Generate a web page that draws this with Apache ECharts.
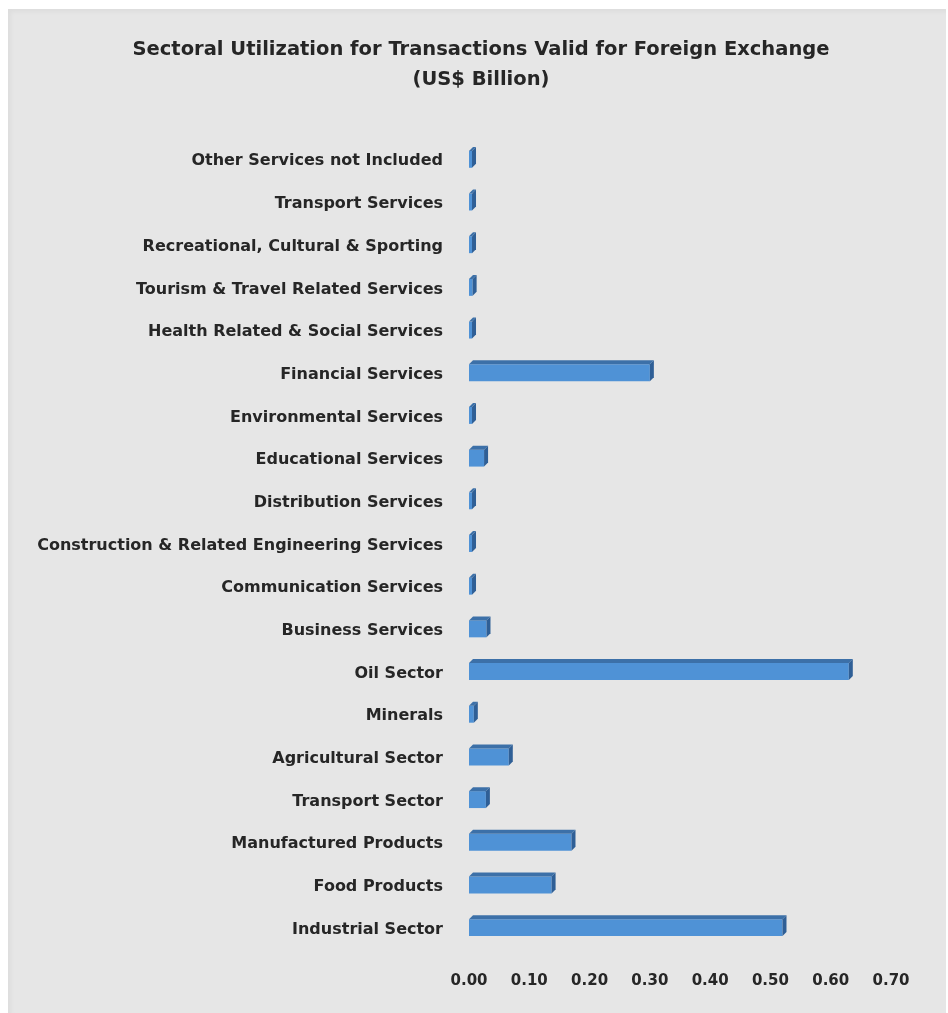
<!DOCTYPE html>
<html>
<head>
<meta charset="utf-8">
<script src="https://cdn.jsdelivr.net/npm/echarts@6/dist/echarts.min.js"></script>
<style>
  html, body { margin: 0; padding: 0; background: #ffffff; }
  #frame {
    position: absolute; left: 8px; top: 9px; width: 938px; height: 1004px;
    background: #e6e6e6;
    box-shadow: inset 3px 3px 4px rgba(0,0,0,0.04);
  }
  #chart { position: absolute; left: 0; top: 0; width: 948px; height: 1013px; }
</style>
</head>
<body>
<div id="frame"></div>
<div id="chart"></div>
<script>
// Sectors, listed from the bottom of the chart upward
const sectors = [
  'Industrial Sector',
  'Food Products',
  'Manufactured Products',
  'Transport Sector',
  'Agricultural Sector',
  'Minerals',
  'Oil Sector',
  'Business Services',
  'Communication Services',
  'Construction & Related Engineering Services',
  'Distribution Services',
  'Educational Services',
  'Environmental Services',
  'Financial Services',
  'Health Related & Social Services',
  'Tourism & Travel Related Services',
  'Recreational, Cultural & Sporting',
  'Transport Services',
  'Other Services not Included'
];

// Utilization, US$ billion
const utilization = [
  0.52, 0.137, 0.17, 0.028, 0.066, 0.008, 0.63, 0.029, 0.005, 0.005,
  0.005, 0.025, 0.005, 0.30, 0.005, 0.006, 0.005, 0.005, 0.005
];

const xTicks = { min: 0, max: 0.7, interval: 0.1 };

const FONT = '"DejaVu Sans", sans-serif';
const TEXT = '#262626';

// Bar with a thin bevelled top and end face, like a shallow 3-D block
function renderBar(params, api) {
  const idx = api.value(0);
  const v = api.value(1);
  const p0 = api.coord([0, idx]);
  const p1 = api.coord([v, idx]);
  const band = api.size([0, 1])[1];
  const h = band * 0.49;
  const d = 4;
  const lift = 4;
  const x0 = p0[0];
  const x1 = p1[0];
  const yTop = p0[1] - h / 2 - lift;
  const yBot = p0[1] + h / 2 - lift;
  return {
    type: 'group',
    children: [
      {
        type: 'rect',
        shape: { x: x0, y: yTop + d, width: Math.max(x1 - x0, 0), height: h - d },
        style: { fill: '#4f92d6' }
      },
      {
        type: 'polygon',
        shape: { points: [[x0, yTop + d], [x0 + d, yTop], [x1 + d, yTop], [x1, yTop + d]] },
        style: { fill: '#3c70a8' }
      },
      {
        type: 'polygon',
        shape: { points: [[x1, yTop + d], [x1 + d, yTop], [x1 + d, yBot - d], [x1, yBot]] },
        style: { fill: '#2f5f96' }
      }
    ]
  };
}

const chart = echarts.init(document.getElementById('chart'), null, { renderer: 'canvas' });
chart.setOption({
  backgroundColor: 'transparent',
  animation: false,
  title: {
    text: 'Sectoral Utilization for Transactions Valid for Foreign Exchange\n(US$ Billion)',
    left: 476,
    textAlign: 'center',
    top: 30,
    textStyle: { fontFamily: FONT, fontWeight: 'bold', fontSize: 19.5, color: TEXT, lineHeight: 30 }
  },
  grid: { left: 469, right: 57, top: 140, bottom: 62, containLabel: false },
  xAxis: {
    type: 'value',
    min: xTicks.min,
    max: xTicks.max,
    interval: xTicks.interval,
    axisLine: { show: false },
    axisTick: { show: false },
    splitLine: { show: false },
    axisLabel: {
      margin: 23,
      fontFamily: FONT, fontWeight: 'bold', fontSize: 15, color: TEXT,
      formatter: v => v.toFixed(2)
    }
  },
  yAxis: {
    type: 'category',
    data: sectors,
    axisLine: { show: false },
    axisTick: { show: false },
    axisLabel: {
      margin: 26,
      fontFamily: FONT, fontWeight: 'bold', fontSize: 16, color: TEXT
    }
  },
  series: [{
    type: 'custom',
    renderItem: renderBar,
    encode: { x: 1, y: 0 },
    data: utilization.map((v, i) => [i, v])
  }]
});
</script>
</body>
</html>
